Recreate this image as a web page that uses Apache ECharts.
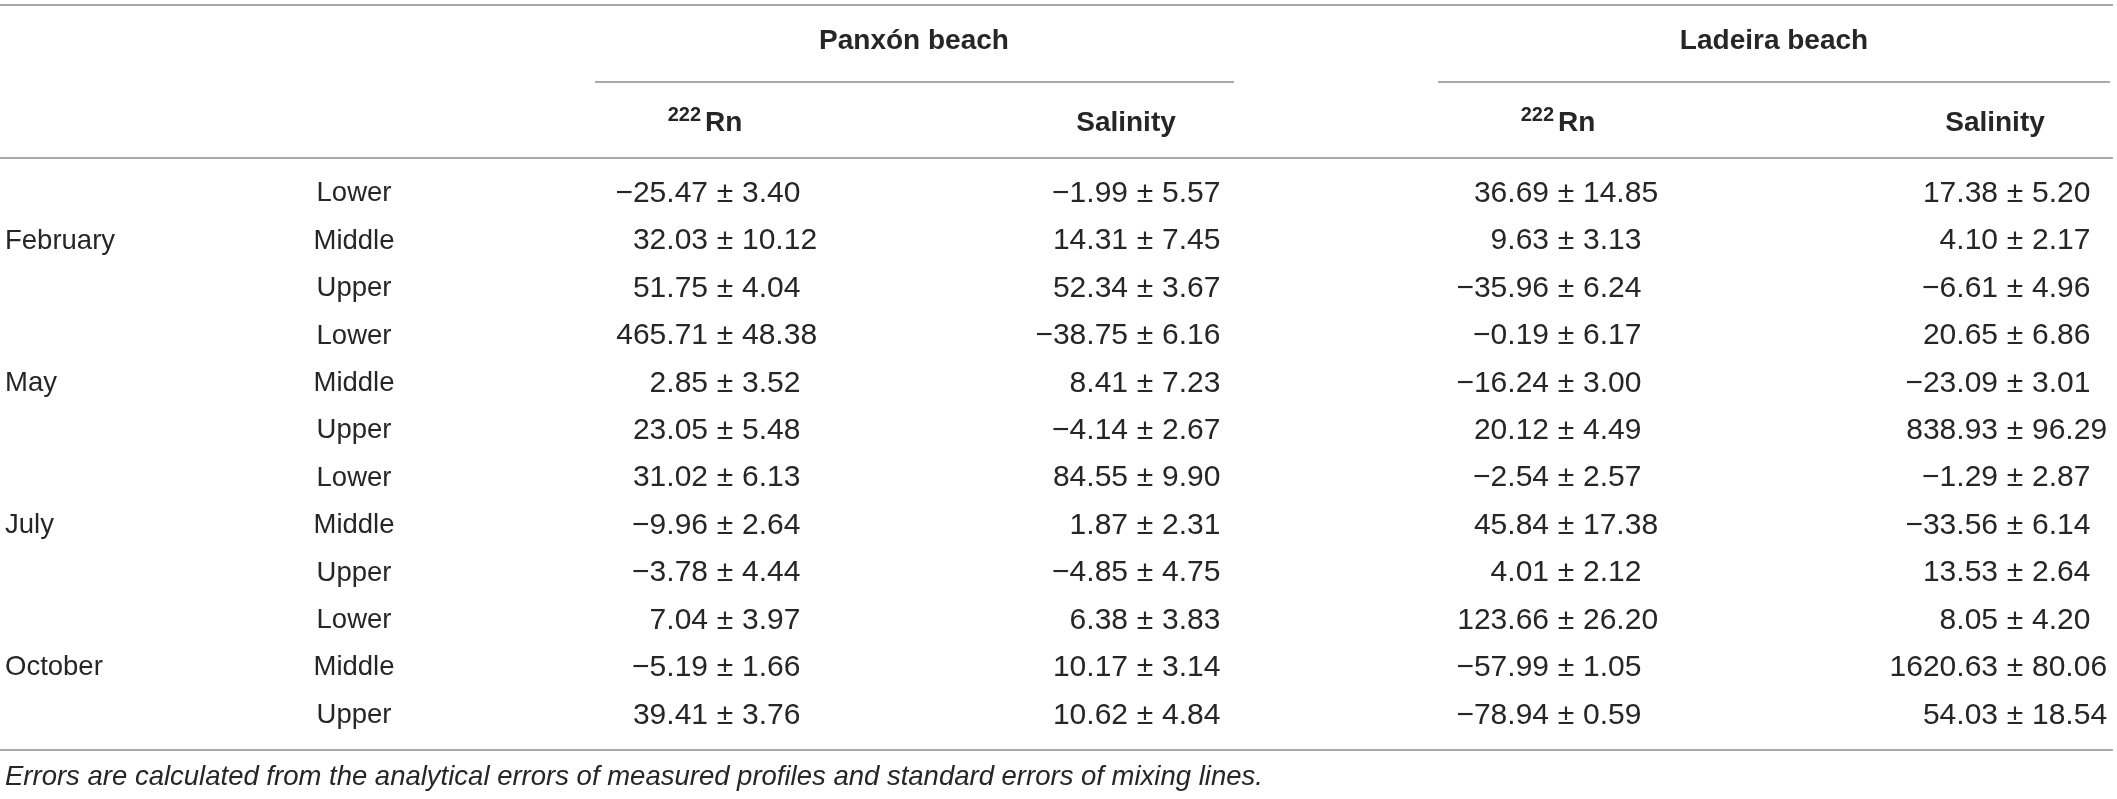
<!DOCTYPE html>
<html>
<head>
<meta charset="utf-8">
<title>Rn and salinity mixing fluxes</title>
<script src="https://cdn.jsdelivr.net/npm/echarts@6/dist/echarts.min.js"></script>
<style>
  html, body { margin: 0; padding: 0; background: #fff; }
  #chart { width: 2117px; height: 799px; }
</style>
</head>
<body>
<div id="chart"></div>
<script>
// table content
const months = ['February', 'May', 'July', 'October'];
const positions = ['Lower', 'Middle', 'Upper'];
const beaches = ['Panxón beach', 'Ladeira beach'];
const isotope = '222';
const tracers = ['Rn', 'Salinity'];

const panxonRnMean = [-25.47, 32.03, 51.75, 465.71, 2.85, 23.05, 31.02, -9.96, -3.78, 7.04, -5.19, 39.41];
const panxonRnErr = [3.40, 10.12, 4.04, 48.38, 3.52, 5.48, 6.13, 2.64, 4.44, 3.97, 1.66, 3.76];
const panxonSalMean = [-1.99, 14.31, 52.34, -38.75, 8.41, -4.14, 84.55, 1.87, -4.85, 6.38, 10.17, 10.62];
const panxonSalErr = [5.57, 7.45, 3.67, 6.16, 7.23, 2.67, 9.90, 2.31, 4.75, 3.83, 3.14, 4.84];
const ladeiraRnMean = [36.69, 9.63, -35.96, -0.19, -16.24, 20.12, -2.54, 45.84, 4.01, 123.66, -57.99, -78.94];
const ladeiraRnErr = [14.85, 3.13, 6.24, 6.17, 3.00, 4.49, 2.57, 17.38, 2.12, 26.20, 1.05, 0.59];
const ladeiraSalMean = [17.38, 4.10, -6.61, 20.65, -23.09, 838.93, -1.29, -33.56, 13.53, 8.05, 1620.63, 54.03];
const ladeiraSalErr = [5.20, 2.17, 4.96, 6.86, 3.01, 96.29, 2.87, 6.14, 2.64, 4.20, 80.06, 18.54];

const footnote = 'Errors are calculated from the analytical errors of measured profiles and standard errors of mixing lines.';

// layout (pixels, the x axis runs 0..2117 across the page)
const W = 2117;
const ink = '#262626';
const rule = '#8c8c8c';
const font = '"Liberation Sans", Arial, Helvetica, sans-serif';
const monthX = 5;
const positionX = 354;
const pmX = [725, 1145, 1566, 2015]; // x of the ± in each value column
const headX = [704, 1126, 1557, 1995];
const beachX = [914, 1774];

const rows = [];
months.forEach((m) => positions.forEach((p) => rows.push(m + ' ' + p)));

const valueCols = [
  [panxonRnMean, panxonRnErr],
  [panxonSalMean, panxonSalErr],
  [ladeiraRnMean, ladeiraRnErr],
  [ladeiraSalMean, ladeiraSalErr],
];

const cellData = [];
valueCols.forEach(([mean, err], c) => {
  mean.forEach((v, r) => cellData.push([pmX[c], r, v, err[r]]));
});

const monthText = months;
const monthData = months.map((m, i) => [monthX, i * positions.length + 1]);
const positionText = rows.map((_, r) => positions[r % positions.length]);
const positionData = rows.map((_, r) => [positionX, r]);

const fmt = (v) => (v < 0 ? '\u2212' : '') + Math.abs(v).toFixed(2);

function renderCell(params, api) {
  const p = api.coord([api.value(0), api.value(1)]);
  const base = { fill: ink, fontSize: 30, fontFamily: font, verticalAlign: 'middle' };
  return {
    type: 'group',
    children: [
      { type: 'text', x: p[0] - 17, y: p[1], style: Object.assign({}, base, { text: fmt(api.value(2)), align: 'right' }) },
      { type: 'text', x: p[0], y: p[1], style: Object.assign({}, base, { text: '\u00b1', align: 'center' }) },
      { type: 'text', x: p[0] + 17, y: p[1], style: Object.assign({}, base, { text: fmt(api.value(3)), align: 'left' }) },
    ],
  };
}

function labelRenderer(texts, align) {
  return (params, api) => {
    const p = api.coord([api.value(0), api.value(1)]);
    return {
      type: 'text',
      x: p[0],
      y: p[1],
      style: {
        text: texts[params.dataIndex],
        fill: ink, fontSize: 27.5, fontFamily: font, align: align, verticalAlign: 'middle',
      },
    };
  };
}

const hline = (x1, x2, y) => ({
  type: 'line', silent: true,
  shape: { x1: x1, y1: y, x2: x2, y2: y },
  style: { stroke: rule, lineWidth: 1.6 },
});
const txt = (x, y, text, size, align, extra) => ({
  type: 'text', x: x, y: y, silent: true,
  style: Object.assign({ text: text, fill: ink, fontSize: size, fontFamily: font, fontWeight: 'bold', align: align, verticalAlign: 'middle' }, extra || {}),
});

const graphic = [
  hline(0, 2113, 5),
  hline(595, 1234, 82),
  hline(1438, 2110, 82),
  hline(0, 2113, 158),
  hline(0, 2113, 750),
  txt(beachX[0], 41, beaches[0], 28, 'center'),
  txt(beachX[1], 41, beaches[1], 28, 'center'),
  txt(headX[0] - 3, 115, isotope, 20, 'right'),
  txt(headX[0] + 1, 123, tracers[0], 28, 'left'),
  txt(headX[1], 123, tracers[1], 28, 'center'),
  txt(headX[2] - 3, 115, isotope, 20, 'right'),
  txt(headX[2] + 1, 123, tracers[0], 28, 'left'),
  txt(headX[3], 123, tracers[1], 28, 'center'),
  txt(5, 777, footnote, 27.5, 'left', { fontWeight: 'normal', fontStyle: 'italic' }),
];

const chart = echarts.init(document.getElementById('chart'), null, { renderer: 'canvas' });
chart.setOption({
  animation: false,
  backgroundColor: '#fff',
  grid: { left: 0, right: 0, top: 170, height: 569 },
  xAxis: { type: 'value', min: 0, max: W, show: false },
  yAxis: { type: 'category', data: rows, inverse: true, show: false },
  graphic: graphic,
  series: [
    { type: 'custom', name: 'months', data: monthData, encode: { x: 0, y: 1 }, renderItem: labelRenderer(monthText, 'left') },
    { type: 'custom', name: 'positions', data: positionData, encode: { x: 0, y: 1 }, renderItem: labelRenderer(positionText, 'center') },
    { type: 'custom', name: 'values', data: cellData, encode: { x: 0, y: 1 }, renderItem: renderCell },
  ],
});
</script>
</body>
</html>
